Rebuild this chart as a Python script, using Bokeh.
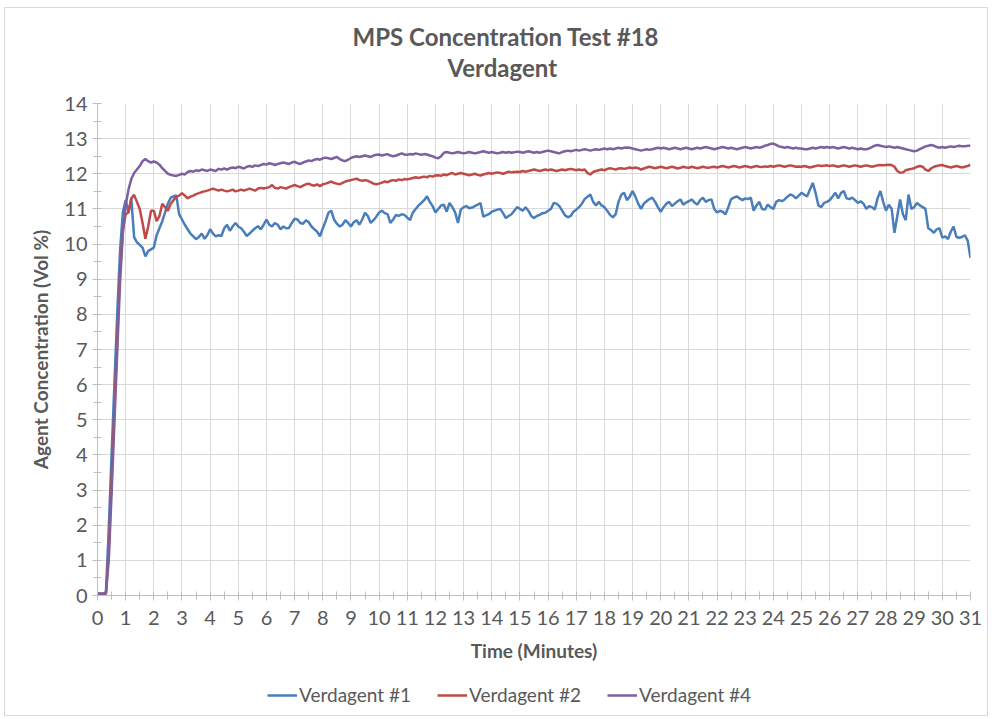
from bokeh.plotting import figure
from bokeh.layouts import column
from bokeh.models import Legend, LegendItem, SingleIntervalTicker, Range1d, Title
from bokeh.embed import file_html
from bokeh.resources import INLINE

# ---------------- data ----------------
time_min = [round(i / 10, 1) for i in range(311)]  # 0.0 .. 31.0 minutes

verdagent_1 = [
    0.05, 0.05, 0.05, 0.1, 1.9, 4.0, 6.0, 8.0, 9.8, 10.9,
    11.25, 10.9, 11.3, 10.2, 10.05, 9.98, 9.9, 9.65, 9.8, 9.85,
    9.9, 10.25, 10.45, 10.65, 10.9, 11.15, 11.32, 11.36, 11.38, 10.85,
    10.7, 10.55, 10.42, 10.3, 10.22, 10.14, 10.2, 10.3, 10.15, 10.25,
    10.42, 10.3, 10.22, 10.25, 10.23, 10.45, 10.55, 10.38, 10.5, 10.6,
    10.5, 10.45, 10.35, 10.23, 10.3, 10.38, 10.45, 10.51, 10.42, 10.55,
    10.7, 10.55, 10.5, 10.6, 10.55, 10.42, 10.5, 10.45, 10.46, 10.6,
    10.72, 10.7, 10.6, 10.58, 10.68, 10.62, 10.5, 10.42, 10.35, 10.22,
    10.45, 10.65, 10.89, 10.95, 10.7, 10.58, 10.5, 10.55, 10.68, 10.6,
    10.5, 10.62, 10.68, 10.55, 10.7, 10.89, 10.8, 10.6, 10.68, 10.78,
    10.9, 10.95, 10.88, 10.85, 10.6, 10.7, 10.83, 10.8, 10.85, 10.83,
    10.75, 10.68, 10.9, 11.0, 11.1, 11.17, 11.25, 11.36, 11.2, 11.08,
    10.9, 11.0, 11.1, 11.12, 10.92, 11.17, 11.05, 10.9, 10.6, 10.98,
    11.05, 11.08, 11.02, 11.04, 11.08, 11.12, 11.17, 10.78, 10.82, 10.85,
    10.92, 10.95, 10.98, 11.0, 10.88, 10.74, 10.8, 10.85, 10.95, 11.05,
    11.0, 10.95, 11.05, 10.95, 10.8, 10.74, 10.8, 10.83, 10.88, 10.89,
    10.95, 11.0, 11.17, 11.15, 11.08, 10.95, 10.82, 10.76, 10.8, 10.92,
    10.98, 11.05, 11.15, 11.28, 11.35, 11.41, 11.2, 11.1, 11.2, 11.1,
    11.05, 10.95, 10.83, 10.76, 10.85, 11.2, 11.4, 11.46, 11.25, 11.35,
    11.51, 11.35, 11.15, 11.0, 11.15, 11.22, 11.28, 11.32, 11.2, 11.05,
    10.92, 11.05, 11.15, 11.2, 11.08, 11.15, 11.22, 11.27, 11.12, 11.18,
    11.22, 11.27, 11.18, 11.12, 11.25, 11.32, 11.2, 11.25, 11.27, 11.0,
    10.9, 10.95, 10.92, 10.85, 11.05, 11.28, 11.32, 11.36, 11.3, 11.25,
    11.3, 11.28, 11.32, 10.95, 11.1, 11.2, 11.0, 10.98, 11.12, 11.05,
    11.0, 11.2, 11.25, 11.22, 11.27, 11.35, 11.41, 11.38, 11.3, 11.38,
    11.46, 11.4, 11.36, 11.55, 11.74, 11.45, 11.1, 11.05, 11.17, 11.2,
    11.25, 11.35, 11.46, 11.3, 11.45, 11.51, 11.3, 11.28, 11.32, 11.25,
    11.17, 11.22, 11.15, 11.0, 11.08, 11.05, 10.98, 11.3, 11.51, 11.2,
    10.95, 11.12, 11.0, 10.32, 10.8, 11.27, 10.85, 10.68, 11.41, 11.0,
    11.05, 11.17, 11.1, 11.05, 11.0, 10.45, 10.4, 10.32, 10.42, 10.45,
    10.18, 10.22, 10.14, 10.35, 10.5, 10.2, 10.18, 10.2, 10.25, 10.1,
    9.6,
]

verdagent_2 = [
    0.05, 0.05, 0.05, 0.05, 1.3, 3.3, 5.3, 7.3, 9.2, 10.4,
    10.85, 10.9, 11.3, 11.4, 11.2, 11.0, 10.6, 10.15, 10.5, 10.95,
    10.95, 10.65, 10.8, 11.15, 11.05, 10.95, 11.15, 11.25, 11.35, 11.38,
    11.45, 11.38, 11.3, 11.35, 11.38, 11.42, 11.45, 11.48, 11.5, 11.52,
    11.55, 11.58, 11.55, 11.52, 11.55, 11.52, 11.5, 11.52, 11.55, 11.5,
    11.52, 11.55, 11.52, 11.55, 11.58, 11.55, 11.52, 11.58, 11.6, 11.58,
    11.6, 11.62, 11.68, 11.6, 11.58, 11.62, 11.6, 11.58, 11.62, 11.65,
    11.68, 11.65, 11.62, 11.66, 11.7, 11.72, 11.68, 11.66, 11.7, 11.65,
    11.7, 11.72, 11.75, 11.78, 11.74, 11.72, 11.7, 11.74, 11.78, 11.8,
    11.82, 11.84, 11.86, 11.82, 11.8, 11.82, 11.8, 11.76, 11.72, 11.7,
    11.72, 11.75, 11.78, 11.76, 11.8, 11.82, 11.8, 11.84, 11.82, 11.85,
    11.84, 11.86, 11.88, 11.9, 11.88, 11.9, 11.92, 11.9, 11.94, 11.92,
    11.95, 11.96, 11.94, 11.98, 11.96, 12.0, 12.02, 11.98, 12.0, 12.02,
    12.0, 11.98, 11.96, 11.98, 12.0, 11.97, 11.95, 11.98, 12.0, 12.02,
    12.0, 12.02, 12.04, 12.02, 12.0, 12.03, 12.06, 12.04, 12.05, 12.06,
    12.05, 12.08, 12.06, 12.08, 12.1, 12.12, 12.1, 12.08, 12.1, 12.12,
    12.1, 12.12, 12.1, 12.08, 12.1, 12.12, 12.1, 12.12, 12.14, 12.12,
    12.1, 12.12, 12.1, 12.12, 12.02, 11.98, 12.05, 12.08, 12.1, 12.12,
    12.1, 12.14, 12.16, 12.14, 12.12, 12.15, 12.16, 12.14, 12.16, 12.18,
    12.16, 12.18, 12.16, 12.12, 12.15, 12.18, 12.2, 12.18, 12.16, 12.18,
    12.2, 12.18, 12.16, 12.18, 12.2, 12.18, 12.15, 12.17, 12.2, 12.18,
    12.17, 12.2, 12.18, 12.16, 12.18, 12.2, 12.18, 12.17, 12.19, 12.2,
    12.18, 12.2, 12.22, 12.2, 12.18, 12.2, 12.22, 12.2, 12.18, 12.2,
    12.22, 12.2, 12.18, 12.2, 12.22, 12.2, 12.19, 12.21, 12.2, 12.22,
    12.2, 12.22, 12.24, 12.22, 12.2, 12.22, 12.24, 12.22, 12.2, 12.21,
    12.2, 12.22, 12.2, 12.18, 12.2, 12.22, 12.24, 12.22, 12.23, 12.24,
    12.22, 12.24, 12.22, 12.2, 12.22, 12.24, 12.22, 12.2, 12.22, 12.24,
    12.22, 12.2, 12.22, 12.24, 12.22, 12.2, 12.22, 12.24, 12.25, 12.24,
    12.25, 12.26, 12.25, 12.2, 12.08, 12.03, 12.04, 12.1, 12.12, 12.14,
    12.16, 12.2, 12.22, 12.2, 12.12, 12.08, 12.15, 12.2, 12.22, 12.24,
    12.25, 12.22, 12.2, 12.18, 12.2, 12.22, 12.2, 12.18, 12.2, 12.22,
    12.26,
]

verdagent_4 = [
    0.05, 0.05, 0.05, 0.05, 1.0, 2.9, 4.9, 6.9, 8.9, 10.3,
    11.1, 11.55, 11.85, 12.02, 12.12, 12.22, 12.36, 12.42, 12.36, 12.32,
    12.35, 12.32, 12.26, 12.16, 12.08, 12.0, 11.97, 11.95, 11.94, 11.97,
    12.0, 11.98, 12.05, 12.08, 12.06, 12.1, 12.08, 12.12, 12.1, 12.08,
    12.12, 12.1, 12.08, 12.14, 12.12, 12.15, 12.12, 12.16, 12.18, 12.16,
    12.2, 12.18, 12.15, 12.2, 12.22, 12.2, 12.24, 12.22, 12.25, 12.28,
    12.26, 12.3, 12.28, 12.25, 12.28, 12.3, 12.32, 12.3, 12.28, 12.32,
    12.34, 12.3, 12.28, 12.32, 12.35, 12.38, 12.36, 12.4, 12.42, 12.4,
    12.44, 12.46, 12.44, 12.42, 12.45, 12.48, 12.42, 12.38, 12.36, 12.4,
    12.45, 12.48, 12.5, 12.48, 12.5, 12.52, 12.5, 12.48, 12.52, 12.54,
    12.55, 12.52, 12.54, 12.56, 12.52, 12.5, 12.52, 12.55, 12.58, 12.55,
    12.54, 12.56, 12.55, 12.58, 12.56, 12.54, 12.56, 12.55, 12.52, 12.5,
    12.46, 12.44, 12.5, 12.6, 12.62, 12.6, 12.58, 12.6, 12.62, 12.6,
    12.58, 12.6, 12.62, 12.6, 12.58, 12.6, 12.62, 12.64, 12.62, 12.6,
    12.62, 12.6, 12.58, 12.6, 12.62, 12.6, 12.62, 12.6, 12.61, 12.63,
    12.62, 12.6, 12.62, 12.64, 12.62, 12.6, 12.62, 12.6, 12.62, 12.64,
    12.66, 12.64, 12.62, 12.6, 12.58, 12.62, 12.64, 12.66, 12.64, 12.66,
    12.68, 12.66, 12.68, 12.7, 12.68, 12.66, 12.68, 12.7, 12.68, 12.7,
    12.72, 12.7, 12.72, 12.7, 12.72, 12.74, 12.72, 12.74, 12.75, 12.74,
    12.72, 12.7, 12.68, 12.66, 12.68, 12.7, 12.68, 12.7, 12.72, 12.74,
    12.72, 12.74, 12.72, 12.7, 12.72, 12.74, 12.72, 12.7, 12.72, 12.74,
    12.72, 12.7, 12.72, 12.74, 12.72, 12.74, 12.76, 12.74, 12.72, 12.7,
    12.72, 12.74, 12.76, 12.74, 12.72, 12.74, 12.72, 12.7, 12.72, 12.74,
    12.76, 12.74, 12.72, 12.74, 12.76, 12.74, 12.76, 12.8, 12.82, 12.85,
    12.86, 12.82, 12.78, 12.76, 12.74, 12.76, 12.74, 12.72, 12.74, 12.72,
    12.72, 12.7, 12.7, 12.72, 12.74, 12.72, 12.74, 12.76, 12.74, 12.76,
    12.74, 12.76, 12.74, 12.72, 12.74, 12.76, 12.74, 12.72, 12.74, 12.72,
    12.7, 12.72, 12.7, 12.7, 12.72, 12.76, 12.8, 12.82, 12.8, 12.78,
    12.76, 12.78, 12.76, 12.74, 12.76, 12.74, 12.72, 12.7, 12.68, 12.66,
    12.64, 12.66, 12.7, 12.74, 12.78, 12.8, 12.82, 12.8, 12.76, 12.74,
    12.76, 12.74, 12.76, 12.78, 12.76, 12.78, 12.8, 12.78, 12.78, 12.8,
    12.8,
]

series_names = ["Verdagent #1", "Verdagent #2", "Verdagent #4"]
series_colors = ["#4A7EBB", "#BE4B48", "#7D60A0"]
title_lines = ["MPS Concentration Test #18", "Verdagent"]
x_label = "Time (Minutes)"
y_label = "Agent Concentration (Vol %)"
all_series = [verdagent_1, verdagent_2, verdagent_4]

# ---------------- main figure ----------------
FONT = "Lato"
TXT = "#595959"

p = figure(width=982, height=670, output_backend="svg", toolbar_location=None,
           title=None,
           x_range=Range1d(0, 31), y_range=Range1d(0, 14),
           min_border_left=92, min_border_right=17,
           min_border_top=95, min_border_bottom=83)
p.outline_line_color = None
p.background_fill_color = "white"
p.border_fill_color = "white"

p.xaxis.ticker = SingleIntervalTicker(interval=1, num_minor_ticks=2)
p.yaxis.ticker = SingleIntervalTicker(interval=1, num_minor_ticks=2)

for ax in (p.xaxis, p.yaxis):
    ax.axis_line_color = "#BFBFBF"
    ax.major_tick_line_color = "#BFBFBF"
    ax.minor_tick_line_color = "#BFBFBF"
    ax.major_tick_in = 0
    ax.major_tick_out = 5
    ax.minor_tick_in = 4
    ax.minor_tick_out = 4
    ax.major_label_text_font = FONT
    ax.major_label_text_font_size = "20px"
    ax.major_label_text_color = TXT
    ax.axis_label_text_font = FONT
    ax.axis_label_text_font_size = "19px"
    ax.axis_label_text_font_style = "bold"
    ax.axis_label_text_color = TXT

p.xaxis.axis_label = x_label
p.yaxis.axis_label = y_label
p.xaxis.major_label_standoff = 10
p.xaxis.axis_label_standoff = 11
p.yaxis.major_label_standoff = 5
p.yaxis.axis_label_standoff = 9

p.xgrid.grid_line_color = "#D9D9D9"
p.ygrid.grid_line_color = "#D9D9D9"
p.xgrid.grid_line_width = 1
p.ygrid.grid_line_width = 1

for ys, c in zip(all_series, series_colors):
    p.line(time_min, ys, line_color=c, line_width=2.5)

# titles: spacer nearest the frame, then second line, then first line
title_kw = dict(text_font=FONT, text_font_size="24px", text_font_style="bold",
                text_color=TXT, align="left", standoff=0, vertical_align="bottom")
p.add_layout(Title(text=" ", text_font_size="16px", standoff=3), "above")
p.add_layout(Title(text=title_lines[1], offset=350, **title_kw), "above")
p.add_layout(Title(text=title_lines[0], offset=255, **title_kw), "above")

# ---------------- legend strip ----------------
# same series drawn outside this strip's visible range, only to feed the legend
lg = figure(width=982, height=37, output_backend="svg", toolbar_location=None,
            title=None, x_axis_type=None, y_axis_type=None,
            x_range=Range1d(0, 1), y_range=Range1d(100, 101),
            min_border_left=0, min_border_right=0, min_border_top=0, min_border_bottom=0)
lg.outline_line_color = None
lg.background_fill_color = "white"
lg.border_fill_color = "white"
lg.xgrid.visible = False
lg.ygrid.visible = False

items = []
for n, ys, c in zip(series_names, all_series, series_colors):
    r = lg.line(time_min, ys, line_color=c, line_width=2.5)
    items.append(LegendItem(label=n, renderers=[r]))

legend = Legend(items=items, orientation="horizontal", location=(170, 9),
                border_line_color=None, background_fill_alpha=0,
                label_text_font=FONT, label_text_font_size="19px", label_text_color=TXT,
                glyph_width=30, glyph_height=20, label_height=20, label_standoff=2,
                spacing=26, padding=0, margin=0)
lg.add_layout(legend, "center")

layout = column(p, lg, spacing=0,
                styles={"border": "1px solid #D9D9D9", "margin-left": "4px", "margin-top": "7px"})

open("out.html", "w").write(file_html(layout, INLINE))
